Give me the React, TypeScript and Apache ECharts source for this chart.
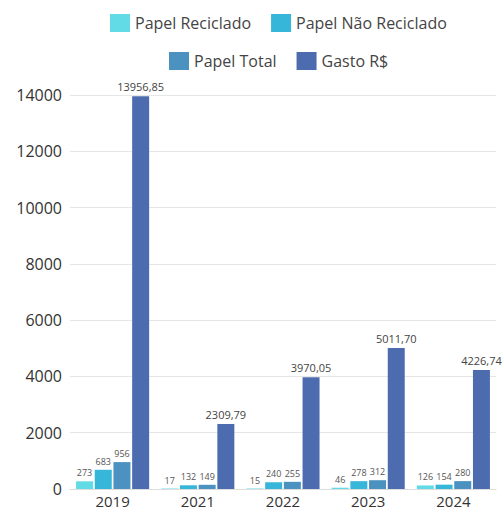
import React, { useEffect, useRef } from "react";
import * as echarts from "echarts";

const categories = ["2019", "2021", "2022", "2023", "2024"];
const papelReciclado = [273, 17, 15, 46, 126];
const papelNaoReciclado = [683, 132, 240, 278, 154];
const papelTotal = [956, 149, 255, 312, 280];
const gasto = [13956.85, 2309.79, 3970.05, 5011.7, 4226.74];
const seriesNames = ["Papel Reciclado", "Papel Não Reciclado", "Papel Total", "Gasto R$"];
const colors = ["#62dbe7", "#36b6d9", "#4b92c1", "#4d6caf"];

const FONT = "Open Sans";

export default function App() {
  const ref = useRef<HTMLDivElement>(null);
  useEffect(() => {
    document.body.style.margin = "0";
    const chart = echarts.init(ref.current!, null, { renderer: "svg" });
    const smallLabel = {
      show: true,
      position: "top",
      distance: 4,
      fontSize: 9,
      color: "#555",
      fontFamily: FONT,
    };
    const datas = [papelReciclado, papelNaoReciclado, papelTotal, gasto];
    const legendText = { fontSize: 16, color: "#444", fontFamily: FONT };
    chart.setOption({
      animation: false,
      color: colors,
      textStyle: { fontFamily: FONT },
      legend: [
        {
          data: [seriesNames[0], seriesNames[1]],
          top: 9,
          left: 105,
          itemWidth: 20,
          itemHeight: 18,
          itemGap: 20,
          textStyle: legendText,
          icon: "rect",
        },
        {
          data: [seriesNames[2], seriesNames[3]],
          top: 47,
          left: 164,
          itemWidth: 20,
          itemHeight: 18,
          itemGap: 20,
          textStyle: legendText,
          icon: "rect",
        },
      ],
      grid: { left: 70, right: 6, top: 95, bottom: 21, containLabel: false },
      xAxis: {
        type: "category",
        data: categories,
        axisTick: { show: false },
        axisLine: { lineStyle: { color: "#ddd" } },
        axisLabel: {
          fontSize: 15,
          lineHeight: 17,
          color: "#333",
          margin: 3,
          fontFamily: FONT,
        },
      },
      yAxis: {
        type: "value",
        min: 0,
        max: 14000,
        interval: 2000,
        axisLabel: {
          fontSize: 16,
          fontWeight: 500,
          color: "#333",
          margin: 8,
          fontFamily: FONT,
          formatter: (v: number) => String(v),
        },
        splitLine: { lineStyle: { color: "#e6e6e6" } },
        axisLine: { show: false },
        axisTick: { show: false },
      },
      series: seriesNames.map((name, i) => ({
        name,
        type: "bar",
        data: datas[i],
        barWidth: 17,
        barGap: "10%",
        itemStyle: { color: colors[i] },
        label:
          i === 3
            ? {
                ...smallLabel,
                fontSize: 11,
                color: "#444",
                formatter: (p: any) => p.value.toFixed(2).replace(".", ","),
              }
            : smallLabel,
      })),
    });
    return () => chart.dispose();
  }, []);
  return <div ref={ref} style={{ width: 502, height: 510 }} />;
}
